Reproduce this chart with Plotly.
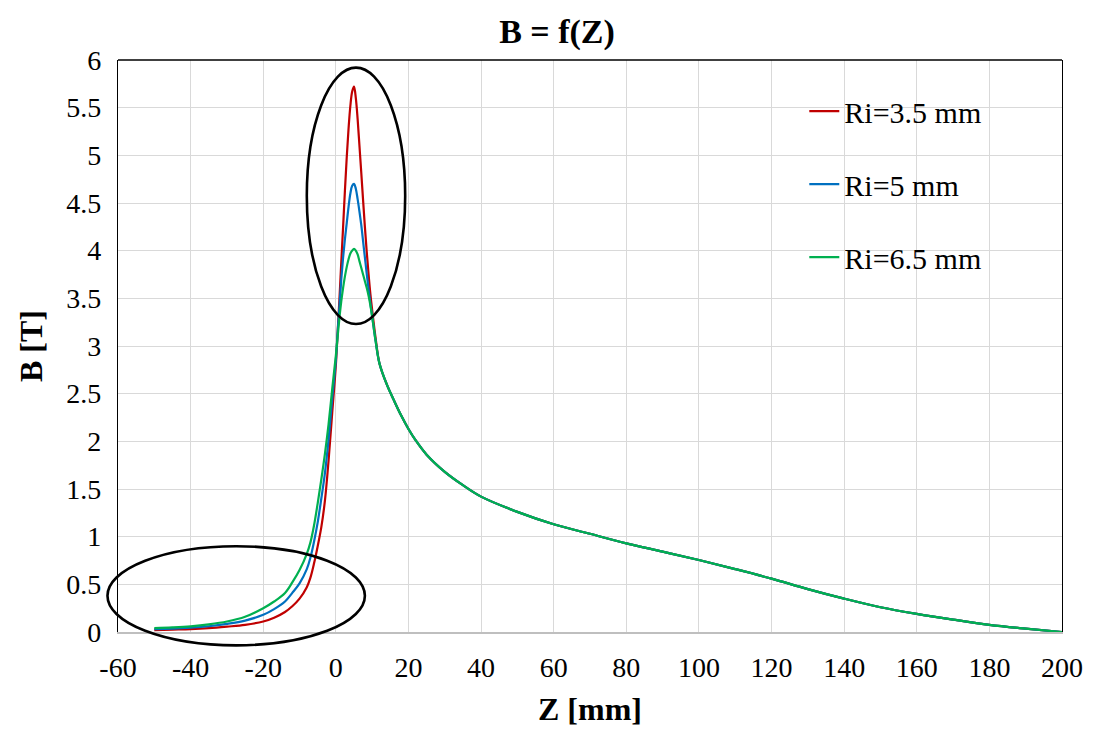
import plotly.graph_objects as go

# ---- data ----
z_vals = [-50, -45, -40, -35, -30, -25, -20, -17, -14, -12, -10, -8, -7, -6, -5, -4, -3, -2, -1,
          0, 0.5, 1, 1.5, 2, 2.5, 3, 3.5, 4, 4.5, 5, 5.5, 6, 6.5, 7, 7.5, 8, 8.5, 9, 9.5, 10, 11,
          12, 14, 16, 18, 20, 22, 25, 30, 35, 40, 50, 60, 70, 80, 90, 100, 110, 120,
          130, 140, 150, 160, 170, 180, 190, 200]

b_r35 = [0.02, 0.025, 0.03, 0.04, 0.056, 0.075, 0.11, 0.15, 0.21, 0.27, 0.35, 0.47, 0.57, 0.72, 0.9, 1.1, 1.38, 1.8, 2.3,
         2.8, 3.15, 3.5, 3.88, 4.25, 4.63, 4.98, 5.28, 5.52, 5.67, 5.72, 5.6, 5.38, 5.1, 4.82, 4.53, 4.25, 3.99, 3.76, 3.55, 3.38, 3.07]
b_r5 = [0.03, 0.035, 0.045, 0.06, 0.085, 0.12, 0.18, 0.24, 0.32, 0.41, 0.51, 0.66, 0.78, 0.95, 1.15, 1.4, 1.67, 2.02, 2.45,
        2.85, 3.15, 3.42, 3.7, 3.93, 4.12, 4.29, 4.46, 4.6, 4.68, 4.70, 4.65, 4.54, 4.41, 4.27, 4.1, 3.93, 3.76, 3.6, 3.45, 3.31, 3.04]
b_r65 = [0.04, 0.048, 0.06, 0.08, 0.11, 0.16, 0.25, 0.32, 0.41, 0.52, 0.65, 0.82, 0.94, 1.12, 1.35, 1.6, 1.87, 2.18, 2.55,
         2.9, 3.1, 3.3, 3.47, 3.61, 3.73, 3.83, 3.91, 3.97, 4.0, 4.02, 4.0, 3.96, 3.89, 3.82, 3.75, 3.68, 3.61, 3.53, 3.43, 3.31, 3.04]
# common tail (z >= 12), identical for the three radii
b_tail = [2.82, 2.6, 2.43, 2.27, 2.13, 2.01, 1.86, 1.68, 1.54, 1.42, 1.26, 1.13, 1.03, 0.93, 0.843, 0.755, 0.66, 0.56,
          0.45, 0.35, 0.26, 0.19, 0.13, 0.075, 0.035, 0.0]

series_names = ["Ri=3.5 mm", "Ri=5 mm", "Ri=6.5 mm"]
series_colors = ["#C00000", "#0070C0", "#00B050"]
x_ticks = [-60, -40, -20, 0, 20, 40, 60, 80, 100, 120, 140, 160, 180, 200]
y_ticks = [0, 0.5, 1, 1.5, 2, 2.5, 3, 3.5, 4, 4.5, 5, 5.5, 6]

series_vals = [b_r35 + b_tail, b_r5 + b_tail, b_r65 + b_tail]

FONT = "Liberation Serif"
W, H = 1114, 729
ML, MR, MT, MB = 118, 52, 60, 97
XMIN, XMAX, YMIN, YMAX = -60, 200, 0, 6

def px(xv):
    return (xv - XMIN) / (XMAX - XMIN)

def py(yv):
    return (yv - YMIN) / (YMAX - YMIN)

fig = go.Figure()
for name, color, vals in zip(series_names, series_colors, series_vals):
    fig.add_trace(go.Scatter(
        x=z_vals, y=vals, mode="lines", name=name,
        line=dict(color=color, width=2.2, shape="spline", smoothing=1.0),
        legendgroup=name,
    ))

shapes = [
    # white legend background covering the grid
    dict(type="rect", xref="x", yref="y", x0=108.6, x1=199.6, y0=3.59, y1=5.84,
         fillcolor="white", line=dict(width=0), layer="below"),
    # top border
    dict(type="line", xref="paper", yref="paper", x0=0, x1=1, y0=1, y1=1,
         line=dict(color="black", width=1.3)),
    # upper ellipse
    dict(type="circle", xref="paper", yref="paper",
         x0=px(-8.0), x1=px(19.1), y0=py(3.23), y1=py(5.92),
         line=dict(color="black", width=2.6)),
    # lower ellipse
    dict(type="circle", xref="paper", yref="paper",
         x0=px(-62.9), x1=px(8.0), y0=py(-0.14), y1=py(0.90),
         line=dict(color="black", width=2.6)),
]

fig.update_layout(
    width=W, height=H,
    margin=dict(l=ML, r=MR, t=MT, b=MB),
    paper_bgcolor="white", plot_bgcolor="white",
    font=dict(family=FONT, color="black", size=28),
    title=dict(text="<b>B = f(Z)</b>", x=0.5, xanchor="center", y=0.958, yanchor="middle",
               font=dict(family=FONT, size=34, color="black")),
    showlegend=True,
    legend=dict(x=0.727, y=0.956, xanchor="left", yanchor="top", bgcolor="rgba(0,0,0,0)",
                font=dict(family=FONT, size=30), itemwidth=30, tracegroupgap=31),
    shapes=shapes,
)
fig.update_xaxes(
    range=[XMIN, XMAX], tickmode="array", tickvals=x_ticks, ticktext=[str(v) for v in x_ticks],
    showgrid=True, gridcolor="#d9d9d9", gridwidth=1.3, zeroline=False,
    showline=True, linecolor="#bfbfbf", linewidth=1.5, ticks="", automargin=False,
    tickfont=dict(family=FONT, size=28), ticklabelstandoff=10,
    title=dict(text="<b>Z [mm]</b>", font=dict(family=FONT, size=32), standoff=15),
)
fig.update_yaxes(
    range=[YMIN, YMAX], tickmode="array", tickvals=y_ticks, ticktext=[f"{v:g}" for v in y_ticks],
    showgrid=True, gridcolor="#d9d9d9", gridwidth=1.3, zeroline=False,
    showline=True, linecolor="black", linewidth=1.3, mirror=True, ticks="", automargin=False,
    tickfont=dict(family=FONT, size=28), ticklabelstandoff=10,
    title=dict(text="<b>B [T]</b>", font=dict(family=FONT, size=32), standoff=14),
)

fig.write_html("out.html")
